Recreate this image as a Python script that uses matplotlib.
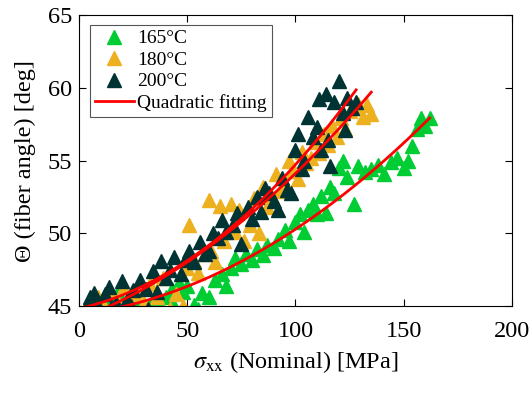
import matplotlib
matplotlib.use('Agg')
import matplotlib.pyplot as plt
import numpy as np

plt.rcParams['font.family'] = ['Liberation Serif', 'DejaVu Serif']
plt.rcParams['mathtext.fontset'] = 'stix'

# 165 C
g_x = [3, 6, 9, 12, 15, 18, 20, 23, 25, 28, 31, 33, 36, 40, 43, 46, 48, 50, 53, 55,
       57, 60, 63, 66, 68, 70, 72, 75, 77, 80, 82, 85, 87, 90, 92, 95, 97, 100, 102, 104,
       106, 108, 110, 112, 114, 116, 118, 120, 122, 124, 127, 129, 132, 135, 138, 141, 144, 147, 150, 152,
       154, 156, 158, 160, 162, 8, 27, 44]
g_y = [44.8, 45.0, 45.4, 44.7, 45.6, 46.0, 45.2, 45.0, 45.7, 45.3, 44.8, 45.1, 45.5, 45.6, 46.2, 46.6, 46.0, 46.4, 45.1, 44.8,
       45.9, 45.6, 46.8, 47.2, 46.4, 47.6, 48.3, 47.9, 48.6, 48.2, 48.9, 48.5, 49.2, 49.0, 49.6, 50.2, 49.5, 50.8, 51.3, 50.1,
       51.6, 52.0, 51.3, 52.6, 51.4, 53.2, 52.8, 54.5, 55.0, 53.9, 52.0, 54.6, 54.2, 54.4, 54.7, 54.1, 54.9, 55.2, 54.5, 55.0,
       56.0, 57.2, 57.9, 57.4, 57.9, 44.6, 44.7, 45.0]

# 180 C
o_x = [3, 6, 9, 12, 15, 18, 21, 24, 27, 30, 33, 36, 39, 42, 45, 48, 50, 51, 53, 55,
       58, 60, 61, 63, 65, 67, 70, 72, 74, 76, 79, 81, 83, 85, 87, 89, 91, 93, 95, 97,
       99, 101, 103, 105, 107, 109, 111, 113, 115, 117, 119, 121, 123, 125, 127, 129, 131, 133, 135]
o_y = [44.8, 45.1, 45.6, 44.9, 46.0, 45.3, 46.3, 45.0, 45.8, 45.2, 46.5, 45.6, 46.9, 44.8, 45.8, 45.0, 47.6, 50.6, 48.1, 47.3,
       48.6, 52.3, 48.8, 48.0, 51.9, 49.5, 52.0, 50.1, 51.6, 49.5, 50.6, 52.4, 50.0, 53.2, 51.8, 52.5, 54.1, 52.9, 53.4, 55.0,
       54.3, 53.7, 55.6, 54.8, 55.2, 56.3, 55.5, 56.8, 56.1, 57.4, 56.6, 57.9, 57.2, 58.4, 58.6, 58.9, 58.0, 58.8, 58.2]

# 200 C
d_x = [3, 5, 7, 9, 12, 14, 17, 20, 22, 25, 28, 31, 32, 34, 36, 38, 40, 42, 44, 47,
       49, 51, 53, 56, 58, 60, 62, 64, 66, 68, 71, 73, 75, 78, 80, 82, 84, 86, 88, 90,
       92, 94, 96, 98, 100, 101, 103, 104, 106, 108, 110, 111, 112, 114, 115, 116, 118, 120, 122, 123,
       124, 126, 128, 6, 10, 15, 24]
d_y = [44.7, 45.6, 45.9, 45.0, 45.8, 46.3, 45.2, 46.7, 45.4, 46.1, 46.8, 46.2, 44.8, 47.4, 46.0, 48.1, 46.9, 47.5, 48.4, 47.2,
       48.2, 48.8, 48.0, 49.4, 48.6, 48.8, 50.0, 49.7, 50.9, 50.1, 50.6, 51.4, 49.3, 51.8, 51.0, 52.5, 51.5, 53.1, 52.8, 52.2,
       51.6, 53.8, 53.0, 52.8, 55.7, 56.8, 54.4, 55.0, 58.0, 56.6, 57.3, 59.2, 55.7, 59.6, 56.4, 54.6, 59.0, 60.5, 58.3, 57.1,
       59.3, 58.6, 59.0, 44.8, 44.6, 44.9, 45.0]

series = [
    (g_x, g_y, '#00CC33', '165\u00b0C'),
    (o_x, o_y, '#EDB120', '180\u00b0C'),
    (d_x, d_y, '#003333', '200\u00b0C'),
]

fig = plt.figure(figsize=(5.3, 3.96), dpi=100)
ax = fig.add_axes([0.149, 0.227, 0.817, 0.735])

for xs, ys, c, lab in series:
    ax.plot(xs, ys, '^', color=c, ms=9.5, mec=c, label=lab, linestyle='none')

for i, (xs, ys, c, lab) in enumerate(series):
    p = np.polyfit(xs, ys, 2)
    xx = np.linspace(min(xs), max(xs), 200)
    ax.plot(xx, np.polyval(p, xx), color='#FF0000', lw=2,
            label='Quadratic fitting' if i == 0 else None)

ax.set_xlim(0, 200)
ax.set_ylim(45, 65)
ax.set_xticks([0, 50, 100, 150, 200])
ax.set_yticks([45, 50, 55, 60, 65])
ax.tick_params(direction='in', top=True, right=True, labelsize=17.5, length=5)
ax.tick_params(axis='x', pad=11)
ax.tick_params(axis='y', pad=5)
ax.set_xlabel(r'$\sigma_{\rm xx}$ (Nominal) [MPa]', fontsize=17.5, labelpad=5)
ax.set_ylabel('\u0398 (fiber angle) [deg]', fontsize=17.5, labelpad=8)

leg = ax.legend(loc='upper left', fontsize=14, fancybox=False, edgecolor='#555555',
                framealpha=1, handlelength=2.0, borderpad=0.25, labelspacing=0.2,
                handletextpad=0.2, borderaxespad=0, bbox_to_anchor=(0.025, 0.966))
leg.get_frame().set_linewidth(0.8)

fig.savefig('out.png', dpi=100)
